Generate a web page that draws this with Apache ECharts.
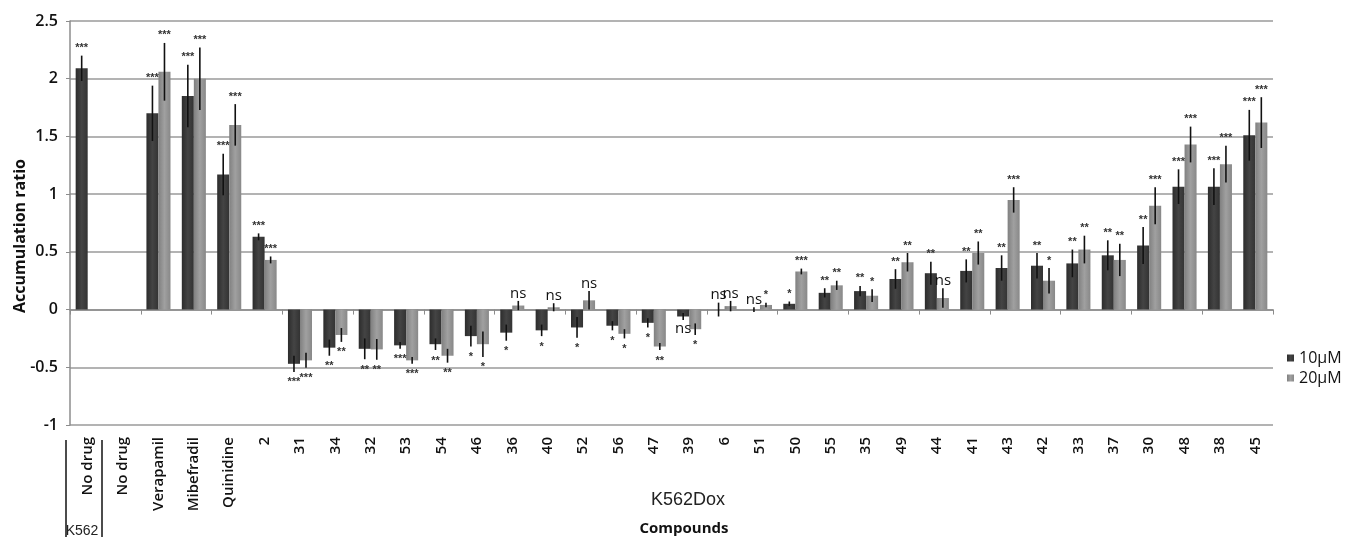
<!DOCTYPE html>
<html>
<head>
<meta charset="utf-8">
<script src="https://cdn.jsdelivr.net/npm/echarts@6/dist/echarts.min.js"></script>
<style>html,body{margin:0;padding:0;background:#fff;}#c{width:1345px;height:537px;}</style>
</head>
<body>
<div id="c"></div>
<script>
var categories = ['No drug','No drug','Verapamil','Mibefradil','Quinidine','2','31','34','32','53','54','46','36','40','52','56','47','39','6','51','50','55','35','49','44','41','43','42','33','37','30','48','38','45'];
var v10 = [2.09, null, 1.70, 1.85, 1.17, 0.63, -0.47, -0.33, -0.34, -0.31, -0.30, -0.23, -0.20, -0.18, -0.155, -0.14, -0.115, -0.06, 0.0, 0.0, 0.05, 0.145, 0.16, 0.265, 0.315, 0.335, 0.36, 0.38, 0.40, 0.47, 0.555, 1.065, 1.065, 1.51];
var e10 = [0.11, null, 0.24, 0.27, 0.18, 0.03, 0.07, 0.07, 0.09, 0.03, 0.05, 0.09, 0.07, 0.05, 0.09, 0.04, 0.04, 0.03, 0.06, 0.02, 0.02, 0.04, 0.045, 0.085, 0.10, 0.10, 0.11, 0.11, 0.12, 0.13, 0.16, 0.15, 0.16, 0.22];
var v20 = [null, null, 2.06, 2.00, 1.60, 0.43, -0.44, -0.22, -0.345, -0.44, -0.40, -0.30, 0.035, 0.02, 0.08, -0.21, -0.32, -0.17, 0.03, 0.04, 0.33, 0.21, 0.12, 0.41, 0.10, 0.49, 0.95, 0.25, 0.52, 0.43, 0.90, 1.43, 1.26, 1.62];
var e20 = [null, null, 0.25, 0.27, 0.18, 0.03, 0.065, 0.06, 0.09, 0.03, 0.06, 0.11, 0.04, 0.035, 0.08, 0.04, 0.03, 0.05, 0.045, 0.02, 0.025, 0.04, 0.055, 0.08, 0.085, 0.10, 0.11, 0.11, 0.12, 0.14, 0.16, 0.155, 0.16, 0.22];
var s10 = ['***','','***','***','***','***','***','**','**','***','**','*','*','*','*','*','*','ns','ns','ns','*','**','**','**','**','**','**','**','**','**','**','***','***','***'];
var s20 = ['','','***','***','***','***','***','**','**','***','**','*','ns','ns','ns','*','**','*','ns','*','***','**','*','**','ns','**','***','*','**','**','***','***','***','***'];
var yTicks = {min: -1, max: 2.5, step: 0.5};

var GAP = 0.32;
function errSeries(idx, vals, errs, sigs) {
  return {
    type: 'custom',
    xAxisIndex: 0,
    z: 5,
    silent: true,
    data: categories.map(function (c, i) { return [i, vals[i] == null ? NaN : vals[i], errs[i] == null ? NaN : errs[i]]; }),
    renderItem: function (params, api) {
      var i = api.value(0), v = api.value(1), e = api.value(2);
      if (isNaN(v)) return null;
      var band = api.size([1, 0])[0];
      var bw = band * (1 - GAP) / 2;
      var cx = api.coord([i, 0])[0] + (idx === 0 ? -bw / 2 : bw / 2);
      var yT = api.coord([i, v + e])[1];
      var yB = api.coord([i, v - e])[1];
      var sig = sigs[params.dataIndex];
      var children = [{
        type: 'line',
        shape: {x1: cx, y1: yT, x2: cx, y2: yB},
        style: {stroke: '#111', lineWidth: 1.6}
      }];
      if (sig) {
        var isNs = sig === 'ns';
        var pos = v >= 0;
        children.push({
          type: 'text',
          style: {
            text: sig,
            x: cx,
            y: pos ? (isNs ? yT : yT - 2) : (isNs ? yB + 1 : yB + 5),
            align: 'center',
            verticalAlign: pos ? 'bottom' : 'top',
            fontSize: isNs ? 15 : 11,
            fontFamily: isNs ? 'Open Sans' : 'Liberation Sans',
            fontWeight: isNs ? 'normal' : 'bold',
            fill: isNs ? '#111' : '#333'
          }
        });
      }
      return {type: 'group', children: children};
    }
  };
}

var chart = echarts.init(document.getElementById('c'), null, {renderer: 'canvas'});
chart.setOption({
  backgroundColor: '#fff',
  animation: false,
  grid: {left: 70, right: 72, top: 21, bottom: 112, containLabel: false},
  legend: {
    data: ['10µM', '20µM'],
    orient: 'vertical',
    left: 1287, top: 350,
    padding: 0,
    icon: 'rect',
    itemWidth: 7, itemHeight: 7, itemGap: 4,
    textStyle: {fontSize: 16, fontFamily: 'Open Sans', color: '#111'}
  },
  xAxis: [{
    type: 'category', data: categories,
    axisLine: {show: true, onZero: true, lineStyle: {color: '#8c8c8c', width: 1.5}},
    axisTick: {show: true, length: 5, lineStyle: {color: '#8c8c8c', width: 1}},
    axisLabel: {show: false},
    splitLine: {show: false}
  }, {
    type: 'category', data: categories, position: 'bottom',
    axisLine: {show: false, onZero: false},
    axisTick: {show: false},
    axisLabel: {rotate: 90, interval: 0, fontSize: 15, fontFamily: 'Open Sans', fontWeight: 600, color: '#111', margin: 12},
    splitLine: {show: false}
  }],
  yAxis: {
    type: 'value', min: yTicks.min, max: yTicks.max, interval: yTicks.step,
    axisLine: {show: true, lineStyle: {color: '#8c8c8c', width: 1.5}},
    axisTick: {show: true, length: 4, lineStyle: {color: '#8c8c8c'}},
    axisLabel: {fontSize: 16, fontFamily: 'Open Sans', fontWeight: 600, color: '#111', margin: 12},
    splitLine: {show: true, lineStyle: {color: '#9a9a9a', width: 1.5}}
  },
  series: [{
    name: '10µM', type: 'bar', xAxisIndex: 0, data: v10,
    barCategoryGap: '32%', barGap: '0%',
    itemStyle: {color: {type: 'linear', x: 0, y: 0, x2: 1, y2: 0, colorStops: [{offset: 0, color: '#2c2c2c'}, {offset: 0.5, color: '#444'}, {offset: 1, color: '#333'}]}}
  }, {
    name: '20µM', type: 'bar', xAxisIndex: 0, data: v20,
    barCategoryGap: '32%', barGap: '0%',
    itemStyle: {color: {type: 'linear', x: 0, y: 0, x2: 1, y2: 0, colorStops: [{offset: 0, color: '#808080'}, {offset: 0.5, color: '#a0a0a0'}, {offset: 1, color: '#888'}]}}
  },
  errSeries(0, v10, e10, s10),
  errSeries(1, v20, e20, s20)
  ],
  graphic: [
    {type: 'text', x: 20, y: 236, rotation: Math.PI / 2, style: {text: 'Accumulation ratio', align: 'center', verticalAlign: 'middle', fontSize: 16, fontWeight: 'bold', fontFamily: 'Open Sans', fill: '#111'}},
    {type: 'text', x: 688, y: 500, style: {text: 'K562Dox', align: 'center', verticalAlign: 'middle', fontSize: 18, fontFamily: 'Liberation Sans', fill: '#222'}},
    {type: 'text', x: 684, y: 529, style: {text: 'Compounds', align: 'center', verticalAlign: 'middle', fontSize: 15, fontWeight: 'bold', fontFamily: 'Open Sans', fill: '#111'}},
    {type: 'text', x: 82, y: 531, style: {text: 'K562', align: 'center', verticalAlign: 'middle', fontSize: 14, fontFamily: 'Liberation Sans', fill: '#222'}},
    {type: 'line', shape: {x1: 66, y1: 440, x2: 66, y2: 537}, style: {stroke: '#111', lineWidth: 1.5}},
    {type: 'line', shape: {x1: 102, y1: 440, x2: 102, y2: 537}, style: {stroke: '#111', lineWidth: 1.5}}
  ]
});
</script>
</body>
</html>
